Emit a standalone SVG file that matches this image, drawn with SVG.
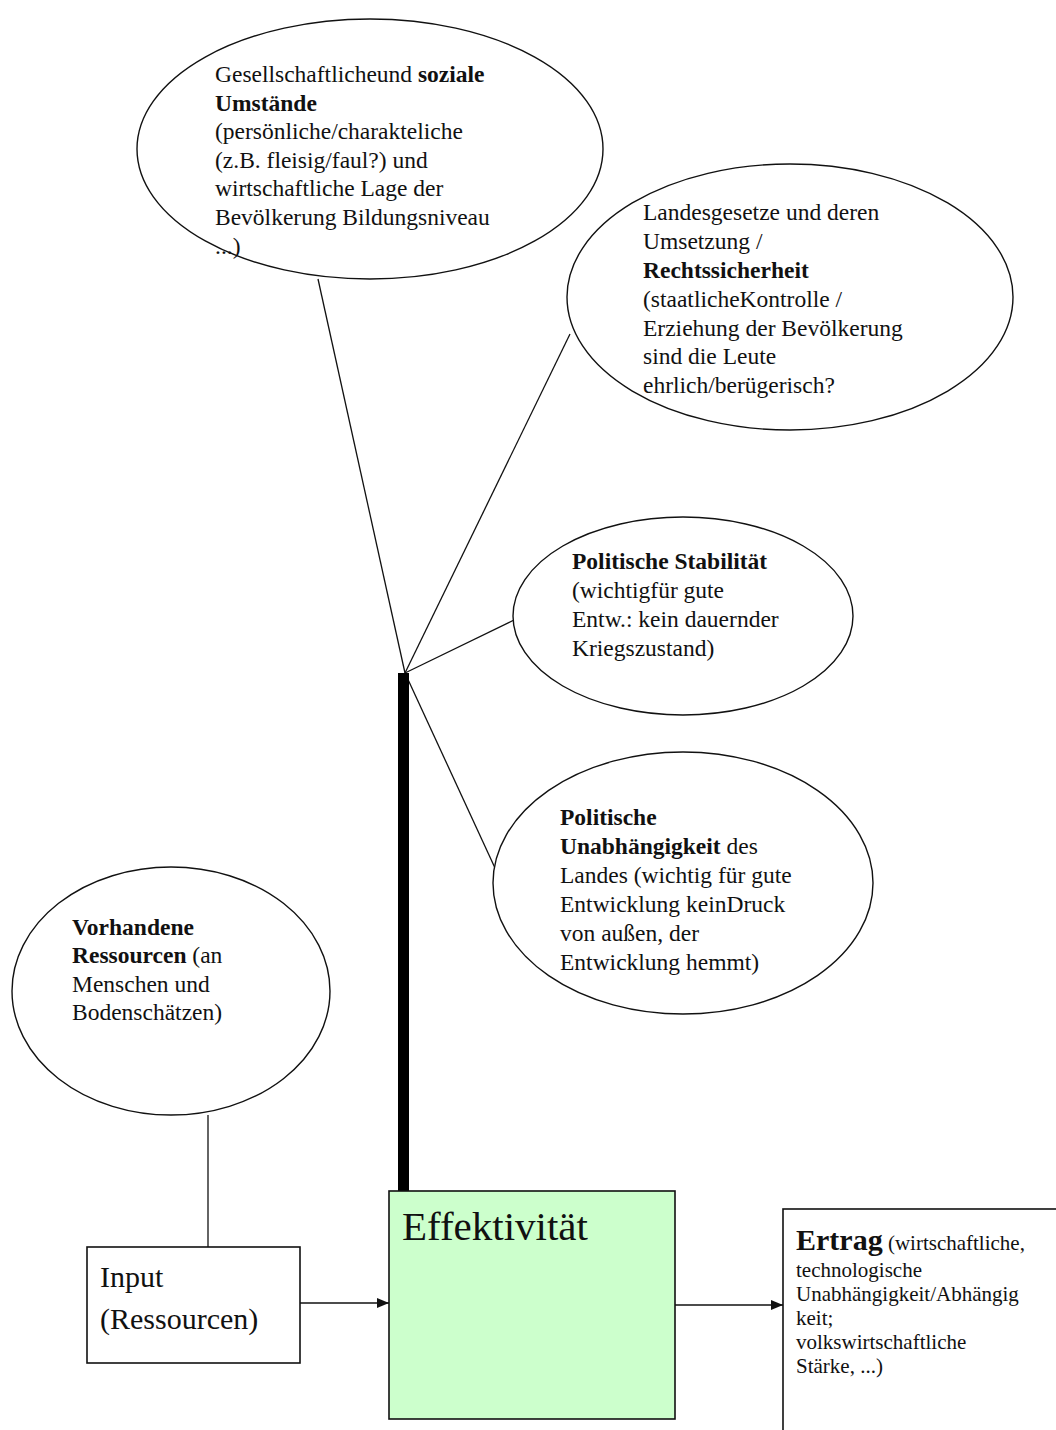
<svg xmlns="http://www.w3.org/2000/svg" width="1056" height="1430" viewBox="0 0 1056 1430">
<style>
.t{font-family:"Liberation Serif","Times New Roman",serif;font-size:23.5px;fill:#111}
.s{font-size:21px}
.b{font-weight:bold}
.ell{fill:#fff;stroke:#111;stroke-width:1.4}
.box{stroke:#111;stroke-width:1.6}
.ln{stroke:#111;stroke-width:1.3;fill:none}
</style>
<defs>
<marker id="ah" viewBox="0 0 12 10" refX="12" refY="5" markerWidth="12" markerHeight="10" markerUnits="userSpaceOnUse" orient="auto">
<path d="M0,0 L12,5 L0,10 z" fill="#111"/>
</marker>
</defs>
<rect width="1056" height="1430" fill="#fff"/>
<g id="connectors">
<line class="ln" x1="405" y1="673" x2="318" y2="279"/>
<line class="ln" x1="405" y1="673" x2="570" y2="334"/>
<line class="ln" x1="405" y1="673" x2="514" y2="620"/>
<line class="ln" x1="405" y1="673" x2="495" y2="868"/>
<line class="ln" x1="208" y1="1115" x2="208" y2="1247"/>
<line class="ln" x1="300" y1="1303" x2="389" y2="1303" marker-end="url(#ah)"/>
<line class="ln" x1="675" y1="1305" x2="783" y2="1305" marker-end="url(#ah)"/>
<rect x="398" y="673" width="11" height="518" fill="#000"/>
</g>
<g id="soziale">
<ellipse class="ell" cx="370" cy="149" rx="233" ry="130"/>
<text class="t" x="215" y="82">Gesellschaftlicheund <tspan class="b">soziale</tspan></text>
<text class="t b" x="215" y="111">Umstände</text>
<text class="t" x="215" y="139">(persönliche/charakteliche</text>
<text class="t" x="215" y="168">(z.B. fleisig/faul?) und</text>
<text class="t" x="215" y="196">wirtschaftliche Lage der</text>
<text class="t" x="215" y="225">Bevölkerung Bildungsniveau</text>
<text class="t" x="215" y="254">...)</text>
</g>
<g id="recht">
<ellipse class="ell" cx="790" cy="297" rx="223" ry="133"/>
<text class="t" x="643" y="220">Landesgesetze und deren</text>
<text class="t" x="643" y="249">Umsetzung /</text>
<text class="t b" x="643" y="278">Rechtssicherheit</text>
<text class="t" x="643" y="307">(staatlicheKontrolle /</text>
<text class="t" x="643" y="336">Erziehung der Bevölkerung</text>
<text class="t" x="643" y="364">sind die Leute</text>
<text class="t" x="643" y="393">ehrlich/berügerisch?</text>
</g>
<g id="stabilitaet">
<ellipse class="ell" cx="683" cy="616" rx="170" ry="99"/>
<text class="t b" x="572" y="569">Politische Stabilität</text>
<text class="t" x="572" y="598">(wichtigfür gute</text>
<text class="t" x="572" y="627">Entw.: kein dauernder</text>
<text class="t" x="572" y="656">Kriegszustand)</text>
</g>
<g id="unabhaengigkeit">
<ellipse class="ell" cx="683" cy="883" rx="190" ry="131"/>
<text class="t b" x="560" y="825">Politische</text>
<text class="t" x="560" y="854"><tspan class="b">Unabhängigkeit</tspan> des</text>
<text class="t" x="560" y="883">Landes (wichtig für gute</text>
<text class="t" x="560" y="912">Entwicklung keinDruck</text>
<text class="t" x="560" y="941">von außen, der</text>
<text class="t" x="560" y="970">Entwicklung hemmt)</text>
</g>
<g id="ressourcen">
<ellipse class="ell" cx="171" cy="991" rx="159" ry="124"/>
<text class="t b" x="72" y="935">Vorhandene</text>
<text class="t" x="72" y="963"><tspan class="b">Ressourcen</tspan> (an</text>
<text class="t" x="72" y="992">Menschen und</text>
<text class="t" x="72" y="1020">Bodenschätzen)</text>
</g>
<g id="input">
<rect class="box" x="87" y="1247" width="213" height="116" fill="#fff"/>
<text class="t" x="100" y="1287" style="font-size:30px">Input</text>
<text class="t" x="100" y="1329" style="font-size:30px">(Ressourcen)</text>
</g>
<g id="effektivitaet">
<rect class="box" x="389" y="1191" width="286" height="228" fill="#ccffcc"/>
<text class="t" x="402" y="1240" style="font-size:41px">Effektivität</text>
</g>
<g id="ertrag">
<rect class="box" x="783" y="1209" width="300" height="260" fill="#fff"/>
<text class="t s" x="796" y="1250"><tspan class="b" style="font-size:30px">Ertrag</tspan> (wirtschaftliche,</text>
<text class="t s" x="796" y="1277">technologische</text>
<text class="t s" x="796" y="1301">Unabhängigkeit/Abhängig</text>
<text class="t s" x="796" y="1325">keit;</text>
<text class="t s" x="796" y="1349">volkswirtschaftliche</text>
<text class="t s" x="796" y="1373">Stärke, ...)</text>
</g>
</svg>
